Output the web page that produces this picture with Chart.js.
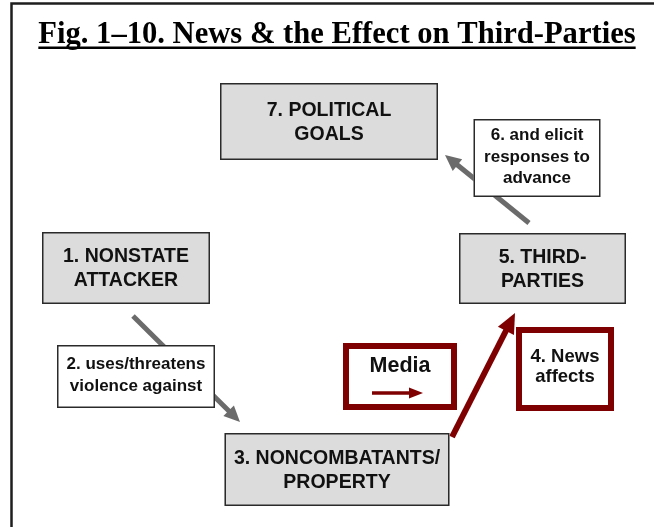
<!DOCTYPE html>
<html>
<head>
<meta charset="utf-8">
<script src="https://cdn.jsdelivr.net/npm/chart.js@4.4.1/dist/chart.umd.min.js"></script>
<style>
  html, body { margin: 0; padding: 0; background: #fff; }
  canvas { display: block; }
</style>
</head>
<body>
<canvas id="fig" width="654" height="527"></canvas>
<script>
// Fig. 1-10 flow diagram, drawn on a Chart.js scatter canvas. Node centres and
// arrow end points live in figure units (0..654 across, 0..527 down) and are
// placed through the chart's own x / y scales; a plugin draws boxes and arrows.

const TITLE = 'Fig. 1\u201310. News & the Effect on Third-Parties';

// nodes
const nodeLines = [
  ['7. POLITICAL', 'GOALS'],
  ['6. and elicit', 'responses to', 'advance'],
  ['5. THIRD-', 'PARTIES'],
  ['1. NONSTATE', 'ATTACKER'],
  ['2. uses/threatens', 'violence against'],
  ['3. NONCOMBATANTS/', 'PROPERTY'],
  ['Media'],
  ['4. News', 'affects']
];
const nodeX = [329, 537, 542.5, 126, 136, 337, 400, 565];
const nodeY = [121.5, 158, 268.5, 268, 376.5, 469.5, 376.5, 369];
const nodeKind = ['stage', 'step', 'stage', 'stage', 'step', 'stage', 'media', 'media'];

// arrows: tail -> head
const arrowFrom = [[133, 316], [529, 223], [452, 437], [372, 393]];
const arrowTo   = [[240, 422], [445, 155], [515, 313], [423, 393]];
const arrowKind = ['gray', 'gray', 'red', 'thin'];

// ---- drawing styles (not data) ----
const boxSize = [[218, 77], [127, 78], [167, 71], [168, 72], [158, 63], [225, 73], [114, 67], [98, 84]];
const KIND = {
  stage: { fill: '#dcdcdc', stroke: '#2a2a2a', lw: 1.5, font: 'bold 19.5px "Liberation Sans", Arial, sans-serif', gap: 24, dy: 1 },
  step:  { fill: '#ffffff', stroke: '#2a2a2a', lw: 1.5, font: 'bold 17px "Liberation Sans", Arial, sans-serif', gap: 21.5, dy: -1 },
  media: { fill: '#ffffff', stroke: '#7f0000', lw: 6, font: 'bold 18.5px "Liberation Sans", Arial, sans-serif', gap: 20, dy: -2 }
};
const ARROW = {
  gray: { color: '#6b6b6b', lw: 5, len: 16, w: 15 },
  red:  { color: '#7f0000', lw: 6, len: 20, w: 18 },
  thin: { color: '#7f0000', lw: 3.5, len: 14, w: 11 }
};

function drawArrow(ctx, x0, y0, x1, y1, s) {
  const a = Math.atan2(y1 - y0, x1 - x0);
  const c = Math.cos(a), sn = Math.sin(a);
  ctx.strokeStyle = s.color;
  ctx.fillStyle = s.color;
  ctx.lineWidth = s.lw;
  ctx.lineCap = 'butt';
  ctx.beginPath();
  ctx.moveTo(x0, y0);
  ctx.lineTo(x1 - c * s.len * 0.8, y1 - sn * s.len * 0.8);
  ctx.stroke();
  const bx = x1 - c * s.len, by = y1 - sn * s.len;
  ctx.beginPath();
  ctx.moveTo(x1, y1);
  ctx.lineTo(bx - sn * s.w / 2, by + c * s.w / 2);
  ctx.lineTo(bx + sn * s.w / 2, by - c * s.w / 2);
  ctx.closePath();
  ctx.fill();
}

const diagram = {
  id: 'diagram',
  afterDatasetsDraw(chart) {
    const { ctx, scales: { x, y } } = chart;
    ctx.save();

    // outer frame (top and left edges visible)
    ctx.strokeStyle = '#1e1e1e';
    ctx.lineWidth = 2.5;
    ctx.beginPath();
    ctx.moveTo(x.getPixelForValue(11.5), y.getPixelForValue(527));
    ctx.lineTo(x.getPixelForValue(11.5), y.getPixelForValue(3.5));
    ctx.lineTo(x.getPixelForValue(654), y.getPixelForValue(3.5));
    ctx.stroke();

    // title, underlined
    ctx.font = 'bold 30.6px "Liberation Serif", "Times New Roman", serif';
    ctx.fillStyle = '#000';
    ctx.textAlign = 'center';
    ctx.textBaseline = 'alphabetic';
    const tx = x.getPixelForValue(337), ty = y.getPixelForValue(43);
    ctx.fillText(TITLE, tx, ty);
    const tw = ctx.measureText(TITLE).width;
    ctx.fillRect(tx - tw / 2, ty + 3.5, tw, 2.5);

    // arrows (under the boxes)
    const arrowsStart = 1;
    arrowKind.forEach((k, i) => {
      const pts = chart.getDatasetMeta(arrowsStart + i).data;
      if (k === 'thin') return; // drawn after media box
      drawArrow(ctx, pts[0].x, pts[0].y, pts[1].x, pts[1].y, ARROW[k]);
    });

    // boxes
    const nodes = chart.getDatasetMeta(0).data;
    nodes.forEach((p, i) => {
      const st = KIND[nodeKind[i]];
      const [w, h] = boxSize[i];
      const l = x.getPixelForValue(nodeX[i] - w / 2), r = x.getPixelForValue(nodeX[i] + w / 2);
      const t = y.getPixelForValue(nodeY[i] - h / 2), b = y.getPixelForValue(nodeY[i] + h / 2);
      const inset = st.lw / 2;
      ctx.fillStyle = st.fill;
      ctx.fillRect(l, t, r - l, b - t);
      ctx.strokeStyle = st.stroke;
      ctx.lineWidth = st.lw;
      ctx.strokeRect(l + inset, t + inset, r - l - 2 * inset, b - t - 2 * inset);

      const lines = nodeLines[i];
      let cy = p.y + st.dy;
      let font = st.font;
      if (lines.length === 1) { cy = p.y - 10; font = 'bold 21.5px "Liberation Sans", Arial, sans-serif'; }
      ctx.font = font;
      ctx.fillStyle = '#111';
      ctx.textAlign = 'center';
      ctx.textBaseline = 'middle';
      const first = cy - (lines.length - 1) * st.gap / 2;
      lines.forEach((ln, j) => ctx.fillText(ln, p.x, first + j * st.gap));
    });

    // media arrow inside its box
    arrowKind.forEach((k, i) => {
      if (k !== 'thin') return;
      const pts = chart.getDatasetMeta(arrowsStart + i).data;
      drawArrow(ctx, pts[0].x, pts[0].y, pts[1].x, pts[1].y, ARROW[k]);
    });

    ctx.restore();
  }
};

const datasets = [{
  label: 'nodes',
  data: nodeX.map((v, i) => ({ x: v, y: nodeY[i] })),
  pointRadius: 0, showLine: false
}].concat(arrowFrom.map((f, i) => ({
  label: 'arrow ' + (i + 1),
  data: [{ x: f[0], y: f[1] }, { x: arrowTo[i][0], y: arrowTo[i][1] }],
  pointRadius: 0, showLine: false
})));

new Chart(document.getElementById('fig'), {
  type: 'scatter',
  data: { datasets },
  options: {
    responsive: false,
    animation: false,
    events: [],
    layout: { padding: 0 },
    plugins: { legend: { display: false }, tooltip: { enabled: false } },
    scales: {
      x: { type: 'linear', min: 0, max: 654, display: false },
      y: { type: 'linear', min: 0, max: 527, reverse: true, display: false }
    }
  },
  plugins: [diagram]
});
</script>
</body>
</html>
